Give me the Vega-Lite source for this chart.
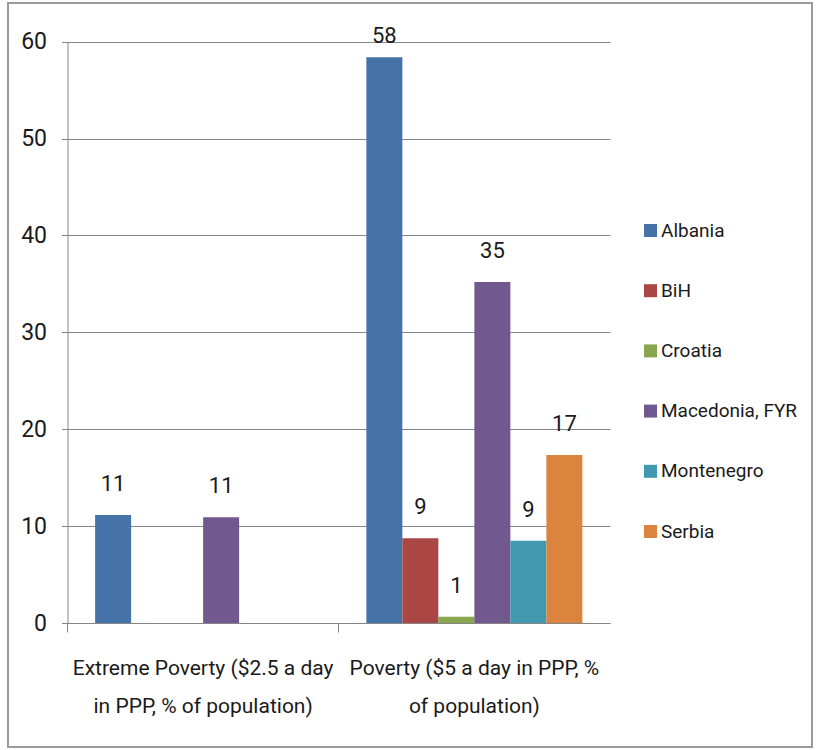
{
  "$schema": "https://vega.github.io/schema/vega-lite/v6.json",
  "width": 804,
  "height": 744,
  "autosize": {"type": "none"},
  "padding": {"left": 8, "top": 3, "right": 5, "bottom": 3},
  "background": "#ffffff",
  "config": {
    "font": "Roboto",
    "view": {"stroke": "#9a9a9a", "strokeWidth": 2},
    "axis": {"labelFont": "Roboto", "labelColor": "#1a1a1a", "domainColor": "#868686", "tickColor": "#868686", "gridColor": "#868686", "domainWidth": 1, "tickWidth": 1, "gridWidth": 1}
  },
  "data": {
    "values": [
      {"category": "Extreme Poverty ($2.5 a day in PPP, % of population)", "country": "Albania", "value": 11.15},
      {"category": "Extreme Poverty ($2.5 a day in PPP, % of population)", "country": "Macedonia, FYR", "value": 10.91},
      {"category": "Poverty ($5 a day in PPP, % of population)", "country": "Albania", "value": 58.4},
      {"category": "Poverty ($5 a day in PPP, % of population)", "country": "BiH", "value": 8.74},
      {"category": "Poverty ($5 a day in PPP, % of population)", "country": "Croatia", "value": 0.65},
      {"category": "Poverty ($5 a day in PPP, % of population)", "country": "Macedonia, FYR", "value": 35.2},
      {"category": "Poverty ($5 a day in PPP, % of population)", "country": "Montenegro", "value": 8.5},
      {"category": "Poverty ($5 a day in PPP, % of population)", "country": "Serbia", "value": 17.34}
    ]
  },
  "encoding": {
    "x": {
      "field": "category",
      "type": "nominal",
      "sort": null,
      "title": null,
      "scale": {
        "domain": ["Extreme Poverty ($2.5 a day in PPP, % of population)", "Poverty ($5 a day in PPP, % of population)"],
        "range": [59.5, 602],
        "paddingInner": 0,
        "paddingOuter": 0
      },
      "axis": {
        "orient": "bottom",
        "offset": -124,
        "labelAngle": 0,
        "bandPosition": 0,
        "tickSize": 9,
        "labelPadding": 25,
        "labelFontSize": 21,
        "labelLineHeight": 38,
        "labelBaseline": "top",
        "labelLimit": 400,
        "grid": false,
        "labelExpr": "indexof(datum.value, 'Extreme') == 0 ? ['Extreme Poverty ($2.5 a day', 'in PPP, % of population)'] : ['Poverty ($5 a day in PPP, %', 'of population)']"
      }
    },
    "xOffset": {
      "field": "country",
      "type": "nominal",
      "scale": {
        "domain": ["Albania", "BiH", "Croatia", "Macedonia, FYR", "Montenegro", "Serbia"],
        "paddingInner": 0,
        "paddingOuter": 0.767
      }
    },
    "y": {
      "field": "value",
      "type": "quantitative",
      "title": null,
      "scale": {"domain": [0, 60], "range": [620, 38.7], "nice": false, "zero": true},
      "axis": {
        "orient": "left",
        "offset": -59.5,
        "values": [0, 10, 20, 30, 40, 50, 60],
        "tickSize": 6,
        "labelPadding": 15,
        "labelFontSize": 23,
        "grid": true
      }
    }
  },
  "layer": [
    {
      "mark": {"type": "bar"},
      "encoding": {
        "color": {
          "field": "country",
          "type": "nominal",
          "scale": {
            "domain": ["Albania", "BiH", "Croatia", "Macedonia, FYR", "Montenegro", "Serbia"],
            "range": ["#4572A7", "#AA4643", "#89A54E", "#71588F", "#4198AF", "#DB843D"]
          },
          "legend": {
            "orient": "none",
            "legendX": 633,
            "legendY": 218,
            "title": null,
            "padding": 0,
            "symbolType": "square",
            "symbolSize": 169,
            "symbolStrokeWidth": 0,
            "symbolOpacity": 1,
            "labelFontSize": 19,
            "labelFont": "Roboto",
            "labelColor": "#1a1a1a",
            "labelOffset": 1,
            "rowPadding": 40.2,
            "labelLimit": 300
          }
        }
      }
    },
    {
      "transform": [{"filter": "datum.value <= 50"}],
      "mark": {"type": "text", "baseline": "alphabetic", "dy": -24, "fontSize": 22, "color": "#1a1a1a"},
      "encoding": {"text": {"field": "value", "type": "quantitative", "format": ".0f"}}
    },
    {
      "transform": [{"filter": "datum.value > 50"}],
      "mark": {"type": "text", "baseline": "alphabetic", "dy": -14, "fontSize": 22, "color": "#1a1a1a"},
      "encoding": {"text": {"field": "value", "type": "quantitative", "format": ".0f"}}
    }
  ]
}
